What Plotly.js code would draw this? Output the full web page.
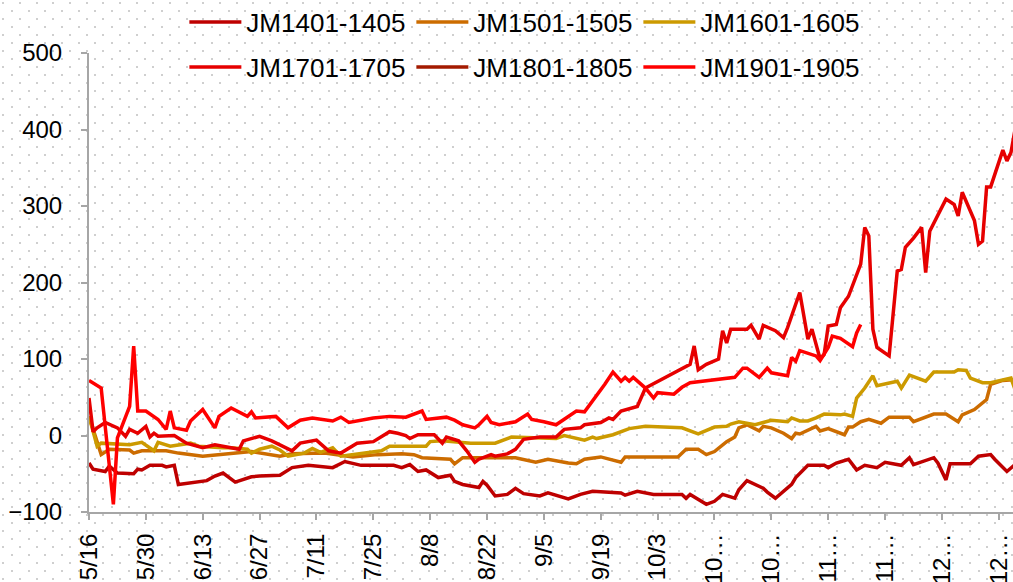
<!DOCTYPE html>
<html>
<head>
<meta charset="utf-8">
<script src="https://cdn.plot.ly/plotly-3.0.1.min.js"></script>
<style>
html, body { margin:0; padding:0; }
body {
  width:1013px; height:582px; overflow:hidden;
  background-color:#ffffff;
  background-image:url("data:image/svg+xml,%3Csvg xmlns='http://www.w3.org/2000/svg' width='50' height='16'%3E%3Cg fill='%23cfcfcf'%3E%3Crect x='2' y='2' width='2' height='2'/%3E%3Crect x='19' y='2' width='2' height='2'/%3E%3Crect x='36' y='2' width='2' height='2'/%3E%3Crect x='11' y='10' width='2' height='2'/%3E%3Crect x='28' y='10' width='2' height='2'/%3E%3Crect x='44' y='10' width='2' height='2'/%3E%3C/g%3E%3C/svg%3E");
  background-repeat:repeat;
}
#chart { position:absolute; left:0; top:0; width:1013px; height:582px; }
</style>
</head>
<body>
<div id="chart"></div>
<script>
// ---------- data (month-day of a common seasonal year) ----------
const YEAR = '2016';

const seriesNames = ['JM1401-1405','JM1501-1505','JM1601-1605','JM1701-1705','JM1801-1805','JM1901-1905'];

const d1401 = ['05-16','05-17','05-20','05-21','05-23','05-27','05-28','05-29','05-31','06-03','06-04','06-06','06-07','06-12','06-14','06-16','06-18','06-21','06-25','06-27','07-02','07-05','07-09','07-15','07-17','07-18','07-22','07-30','08-01','08-03','08-05','08-07','08-10','08-13','08-14','08-16','08-20','08-21','08-22','08-24','08-27','08-29','08-31','09-04','09-06','09-11','09-14','09-17','09-24','09-25','09-28','10-02','10-09','10-10','10-11','10-15','10-17','10-19','10-22','10-23','10-25','10-29','10-30','11-01','11-05','11-06','11-09','11-13','11-14','11-16','11-19','11-21','11-23','11-26','11-28','12-02','12-04','12-05','12-10','12-11','12-13','12-14','12-19','12-21','12-24','12-25','12-28','12-30'];
const v1401 = [-36,-44,-47,-40,-49,-50,-44,-45,-39,-39,-41,-39,-64,-61,-59,-53,-49,-61,-54,-53,-52,-42,-39,-42,-36,-34,-39,-39,-42,-38,-47,-45,-55,-52,-60,-64,-68,-60,-65,-79,-77,-69,-76,-79,-75,-83,-77,-73,-75,-78,-73,-77,-77,-82,-77,-90,-86,-77,-82,-71,-59,-69,-74,-82,-64,-55,-39,-39,-42,-36,-31,-45,-39,-42,-35,-39,-29,-38,-29,-36,-58,-37,-37,-27,-25,-31,-47,-38];

const d1501 = ['05-16','05-18','05-19','05-21','05-26','05-27','05-29','06-04','06-07','06-13','06-20','06-25','07-02','07-05','07-13','07-20','07-26','07-29','08-01','08-04','08-06','08-13','08-14','08-16','08-22','08-29','09-03','09-06','09-11','09-13','09-15','09-19','09-24','09-25','10-08','10-10','10-13','10-15','10-17','10-20','10-22','10-23','10-25','10-28','10-29','10-31','11-03','11-05','11-06','11-07','11-11','11-12','11-14','11-18','11-19','11-20','11-22','11-24','11-27','11-29','12-04','12-05','12-10','12-13','12-16','12-17','12-20','12-23','12-24','12-27','12-30'];
const v1501 = [25,-8,-25,-18,-19,-23,-20,-20,-23,-27,-24,-21,-27,-24,-23,-28,-25,-24,-24,-25,-29,-31,-37,-29,-29,-29,-35,-31,-36,-37,-31,-28,-35,-28,-28,-18,-18,-25,-21,-8,-2,10,14,6,12,10,3,-4,3,2,12,6,9,1,11,11,18,21,16,24,24,18,28,28,18,27,34,47,67,72,73];

const d1601 = ['05-16','05-18','05-19','05-26','05-29','06-01','06-02','06-05','06-10','06-12','06-18','06-20','06-24','06-25','06-27','06-30','07-02','07-04','07-08','07-10','07-12','07-15','07-17','07-21','07-27','07-29','08-03','08-07','08-08','08-11','08-18','08-24','08-28','09-08','09-10','09-15','09-17','09-18','09-22','09-26','09-30','10-09','10-13','10-15','10-17','10-20','10-21','10-23','10-27','10-29','10-31','11-04','11-05','11-07','11-09','11-11','11-13','11-17','11-18','11-20','11-21','11-23','11-25','11-26','12-01','12-02','12-04','12-08','12-10','12-15','12-16','12-18','12-19','12-22','12-24','12-29','12-30'];
const v1601 = [25,-14,-10,-12,-9,-20,-9,-14,-10,-14,-16,-16,-18,-23,-18,-14,-19,-27,-23,-17,-22,-16,-27,-24,-20,-14,-14,-14,-8,-7,-10,-10,-2,-4,0,-6,-2,-4,1,9,12,10,2,6,11,12,15,18,14,17,20,18,23,19,19,23,28,27,28,25,49,62,78,65,71,62,79,71,83,83,86,85,75,69,69,75,60];

const d1701 = ['05-16','05-17','05-18','05-20','05-23','05-25','05-26','05-28','05-30','05-31','06-01','06-02','06-06','06-07','06-09','06-13','06-16','06-22','06-23','06-27','06-30','07-05','07-07','07-11','07-14','07-17','07-21','07-25','07-29','07-31','08-02','08-03','08-05','08-09','08-11','08-12','08-15','08-17','08-19','08-20','08-23','08-24','08-27','08-29','08-31','09-04','09-08','09-10','09-14','09-15','09-19','09-21','09-22','09-24','09-28','09-30','10-11','10-12','10-13','10-15','10-18','10-19','10-20','10-21','10-25','10-26','10-28','10-29','11-01','11-03','11-04','11-07','11-09','11-10','11-12','11-13','11-14','11-16','11-17','11-19','11-22','11-23','11-24','11-25','11-26','11-29','12-01','12-02','12-03','12-05','12-07','12-08','12-09','12-13','12-15','12-16','12-17','12-20','12-21','12-22','12-23','12-24','12-27','12-28','12-29','12-30'];
const v1701 = [49,5,10,17,10,-1,8,3,12,-2,3,-1,0,-3,-10,-16,-12,-18,-7,-1,-7,-20,-10,-6,-20,-23,-10,-8,5,3,0,-4,1,1,-10,-2,-7,-20,-35,-31,-25,-27,-24,-18,-5,-2,-2,8,10,14,17,23,21,32,38,62,93,117,86,93,100,137,121,139,139,144,126,144,137,128,141,187,126,139,100,106,143,145,167,182,224,272,261,139,115,104,215,217,246,258,272,213,267,309,302,287,318,281,250,254,325,325,373,359,370,400];

const d1801 = [];
const v1801 = [];

const d1901 = ['05-16','05-19','05-22','05-23','05-26','05-27','05-28','05-30','06-02','06-04','06-05','06-06','06-09','06-10','06-13','06-16','06-17','06-20','06-24','06-25','06-26','07-01','07-04','07-07','07-10','07-15','07-17','07-19','07-25','07-29','08-02','08-06','08-07','08-12','08-14','08-16','08-19','08-20','08-22','08-23','08-25','08-29','09-01','09-02','09-05','09-08','09-13','09-15','09-20','09-22','09-24','09-25','09-26','09-27','09-30','10-02','10-03','10-07','10-09','10-11','10-22','10-24','10-25','10-28','10-30','10-31','11-04','11-05','11-06','11-07','11-11','11-12','11-14','11-15','11-17','11-20','11-21','11-22'];
const v1901 = [72,62,-90,-3,38,117,32,32,21,8,32,10,7,19,34,10,25,36,25,31,23,25,10,20,23,19,24,17,23,25,24,32,21,24,20,14,10,14,25,17,14,18,28,21,18,14,32,31,67,83,71,76,71,76,62,49,56,54,63,69,76,88,88,76,88,82,78,102,97,111,104,98,115,130,127,116,134,145];

const tickDates = ['05-16','05-30','06-13','06-27','07-11','07-25','08-08','08-22','09-05','09-19','10-03','10-17','10-31','11-14','11-28','12-12','12-26'];
const tickLabels = ['5/16','5/30','6/13','6/27','7/11','7/25','8/8','8/22','9/5','9/19','10/3','10…','10…','11…','11…','12…','12…'];

// ---------- styling ----------
const colors = ['#BE0000','#CC6C00','#CC9A00','#E60000','#A31A00','#FF0000'];
const FONT = '"Liberation Sans", Arial, sans-serif';
const full = md => YEAR + '-' + md;

const dates = [d1401,d1501,d1601,d1701,d1801,d1901];
const vals  = [v1401,v1501,v1601,v1701,v1801,v1901];

const traces = seriesNames.map((n,i) => ({
  type:'scatter', mode:'lines', name:n,
  // a series without data still keeps its legend entry
  x: dates[i].length ? dates[i].map(full) : [null],
  y: vals[i].length ? vals[i] : [null],
  line:{color:colors[i], width:3.5},
  legend: i < 3 ? 'legend' : 'legend2',
  showlegend:true,
  hoverinfo:'skip'
}));

const legendBase = {
  orientation:'h', xref:'container', yref:'container',
  xanchor:'left', yanchor:'middle',
  font:{family:FONT, size:26, color:'#000'},
  bgcolor:'rgba(0,0,0,0)', borderwidth:0,
  itemwidth:52, entrywidth:160, entrywidthmode:'pixels',
  traceorder:'normal'
};

const axisCommon = {
  showgrid:false, zeroline:false, showline:true,
  linecolor:'#A6A6A6', linewidth:2,
  ticks:'outside', ticklen:6, tickwidth:2, tickcolor:'#A6A6A6',
  tickfont:{family:FONT, size:24, color:'#000'}
};

const layout = {
  width:1013, height:582,
  margin:{l:89, r:0, t:53, b:70, pad:0, autoexpand:false},
  paper_bgcolor:'rgba(0,0,0,0)', plot_bgcolor:'rgba(0,0,0,0)',
  showlegend:true,
  legend: Object.assign({}, legendBase, {x:0.182, y:1 - 22/582}),
  legend2: Object.assign({}, legendBase, {x:0.182, y:1 - 67/582}),
  xaxis: Object.assign({}, axisCommon, {
    type:'date', automargin:false,
    range:[full('05-16'), full('12-29') + ' 12:00'],
    tickmode:'array', tickvals:tickDates.map(full), ticktext:tickLabels,
    tickangle:-90, ticklabelstandoff:4
  }),
  yaxis: Object.assign({}, axisCommon, {
    automargin:false,
    range:[-100, 500], tickmode:'linear', tick0:0, dtick:100,
    ticklabelstandoff:14
  })
};

Plotly.newPlot('chart', traces, layout, {staticPlot:true, displayModeBar:false});
</script>
</body>
</html>
